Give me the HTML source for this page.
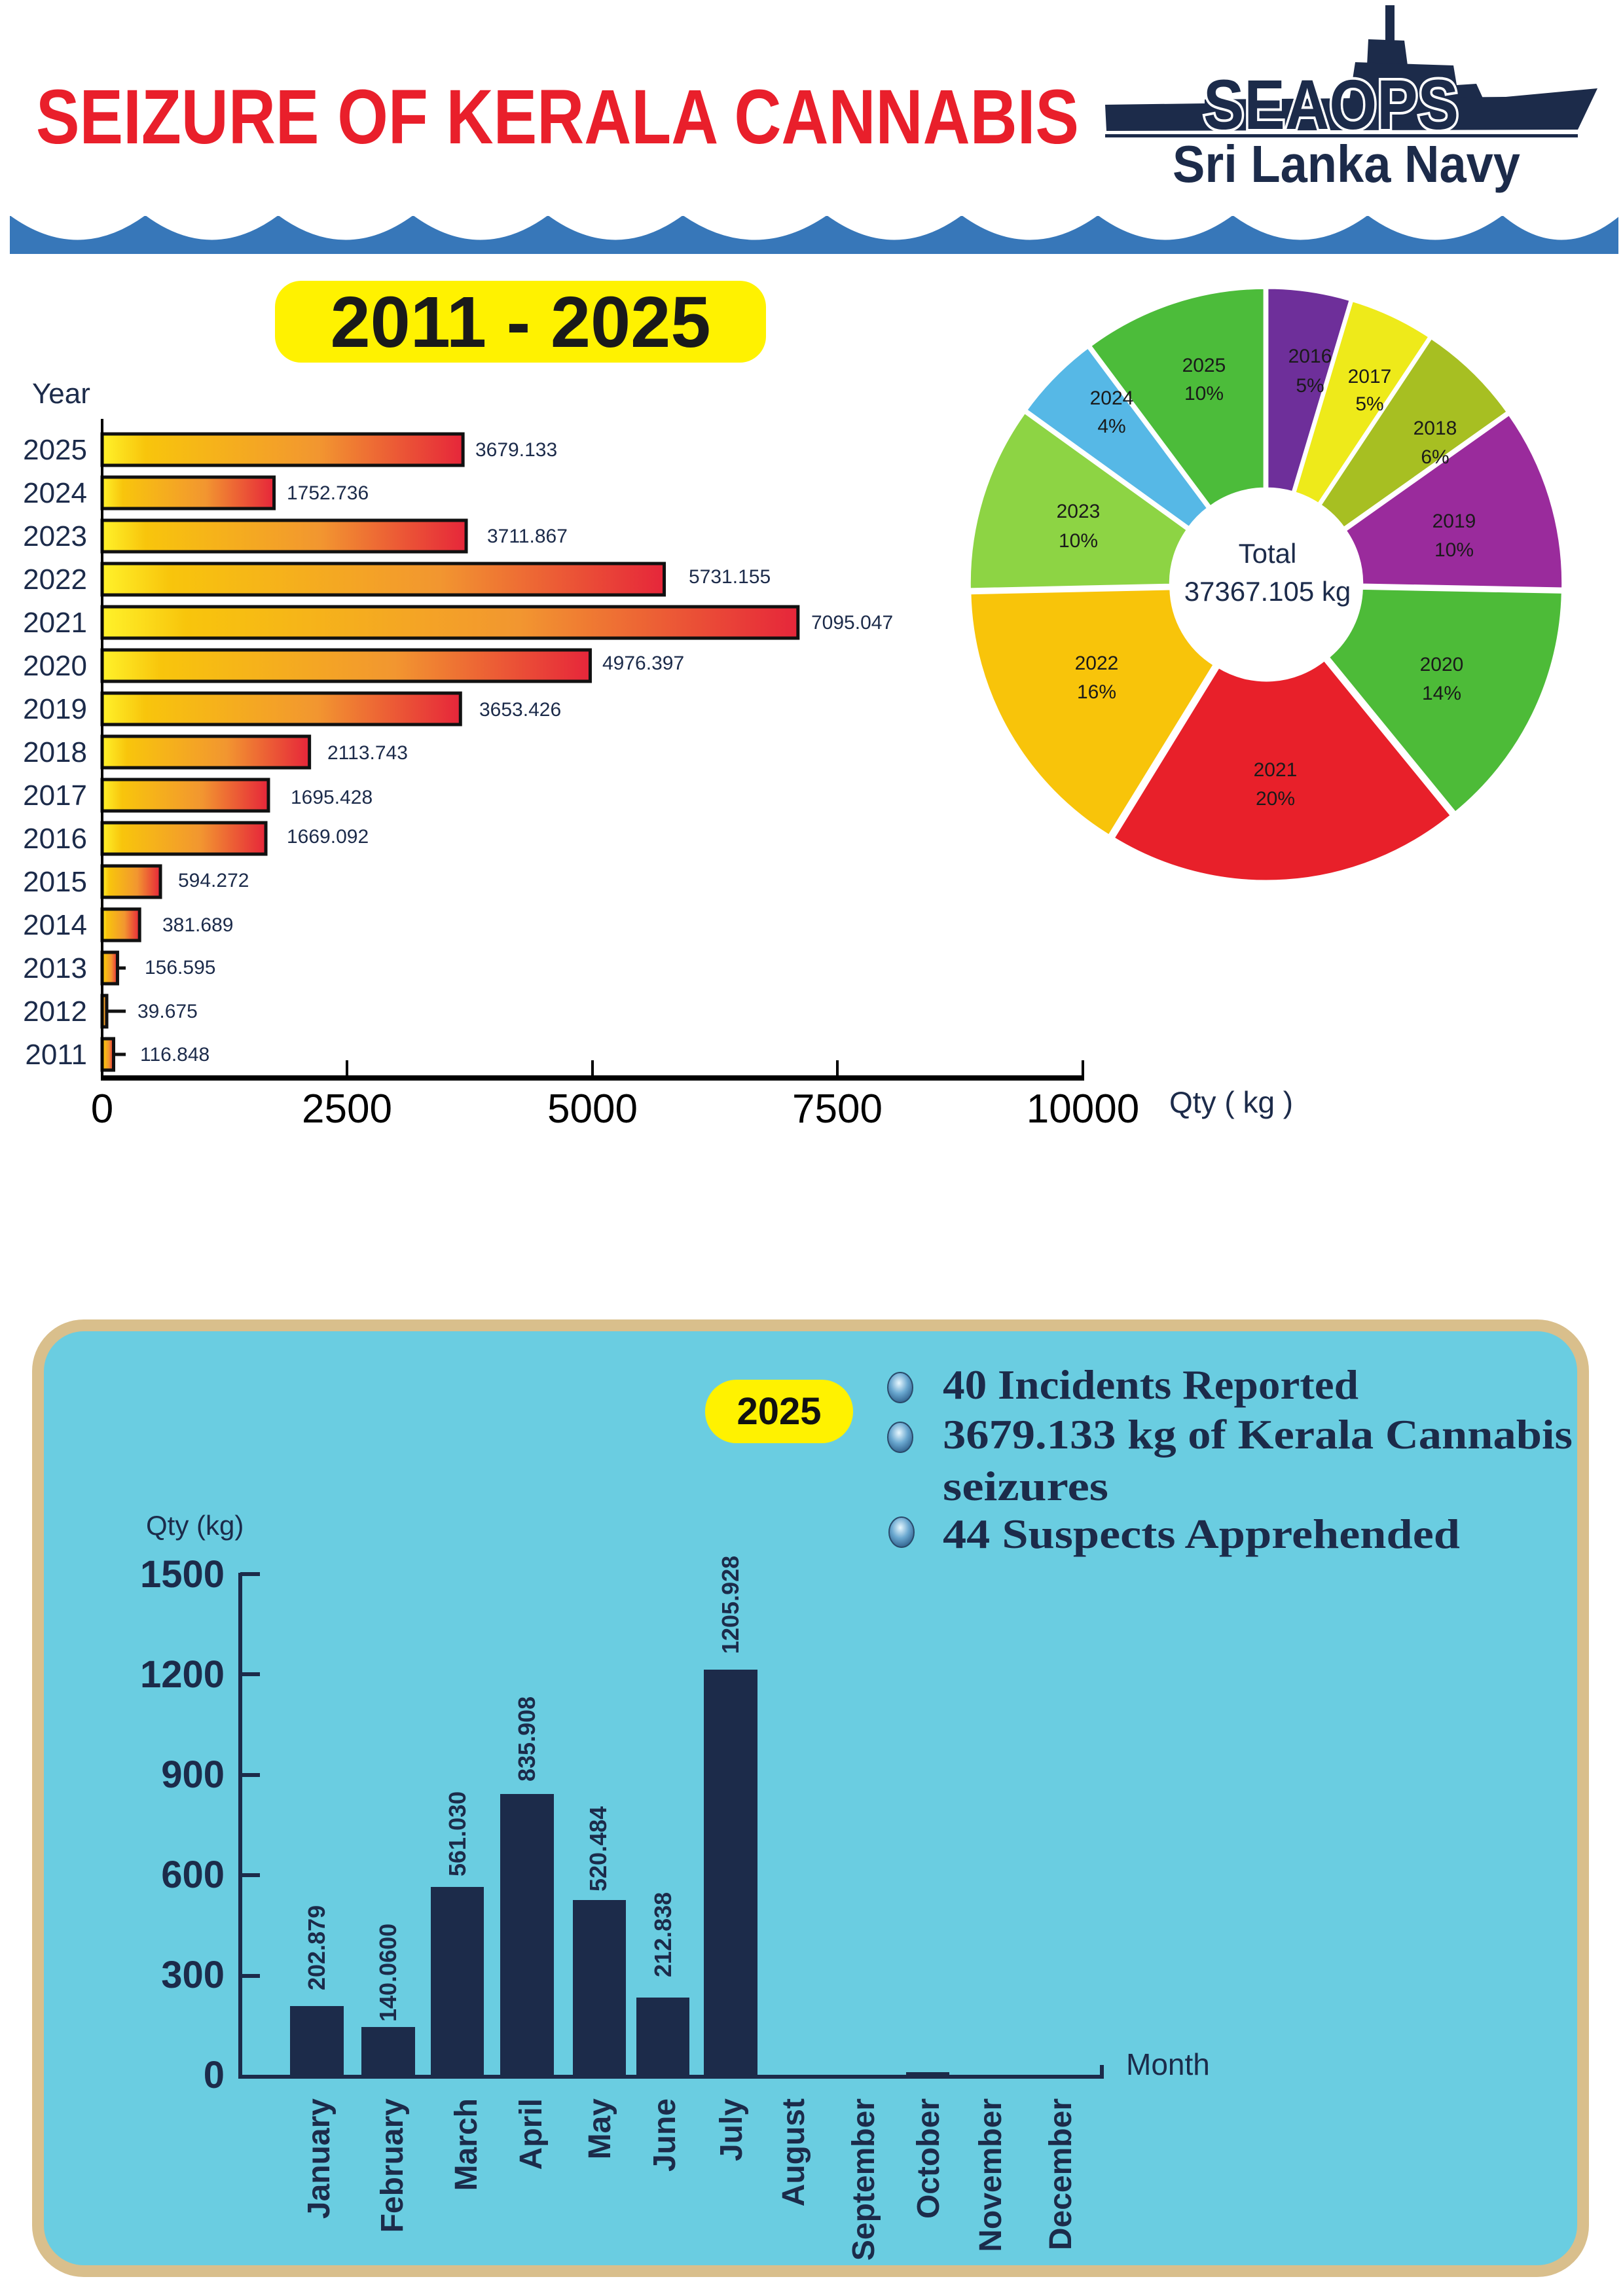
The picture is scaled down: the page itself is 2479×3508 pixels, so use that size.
<!DOCTYPE html>
<html><head><meta charset="utf-8"><style>
html,body{margin:0;padding:0;background:#fff;}
svg{display:block;}
</style></head><body>
<svg id="s" width="2479" height="3508" viewBox="0 0 2479 3508" xmlns="http://www.w3.org/2000/svg" font-family="Liberation Sans, sans-serif">
<defs>
<linearGradient id="bg" x1="0" x2="1" y1="0" y2="0">
<stop offset="0" stop-color="#fff22a"/><stop offset="0.12" stop-color="#f8c50c"/><stop offset="0.6" stop-color="#f29630"/><stop offset="1" stop-color="#e6263a"/>
</linearGradient>
<radialGradient id="bul" cx="0.45" cy="0.35" r="0.7"><stop offset="0" stop-color="#e8f8ff"/><stop offset="0.5" stop-color="#6aa8d0"/><stop offset="1" stop-color="#2a5a86"/></radialGradient>
</defs>

<text x="55" y="219" font-size="118" font-weight="bold" fill="#e91f2b" textLength="1593" lengthAdjust="spacingAndGlyphs">SEIZURE OF KERALA CANNABIS</text>
<g fill="#1c2b4a">
<rect x="2116" y="8" width="14" height="100"/>
<polygon points="2090,60 2145,62 2150,100 2088,100"/>
<polygon points="2070,95 2220,100 2225,130 2255,128 2265,150 2300,148 2300,160 2060,160"/>
<polygon points="1688,160 1840,158 1840,152 2300,148 2440,135 2410,198 1690,200"/>
<rect x="1688" y="205" width="722" height="5"/>
</g>
<text x="1838" y="197" font-size="108" font-weight="bold" fill="#1c2b4a" stroke="#fff" stroke-width="8" paint-order="stroke" textLength="390" lengthAdjust="spacingAndGlyphs">SEAOPS</text>
<text x="1791" y="278" font-size="80" font-weight="bold" fill="#1c2b4a" textLength="531" lengthAdjust="spacingAndGlyphs">Sri Lanka Navy</text>
<rect x="15" y="330" width="2457" height="58" fill="#3777b9"/>
<path id="wv" fill="#fff" d=""/>

<rect x="420" y="429" width="750" height="125" rx="40" fill="#fff200"/>
<text x="795" y="530" font-size="110" font-weight="bold" fill="#1a1a1a" text-anchor="middle">2011 - 2025</text>

<text x="49" y="616" font-size="44" fill="#1c2b4a">Year</text>
<g id="hb"></g>
<line x1="156" y1="640" x2="156" y2="1647" stroke="#000" stroke-width="4"/>
<line x1="154" y1="1647" x2="1656" y2="1647" stroke="#000" stroke-width="8"/>
<g stroke="#000" stroke-width="4"><line x1="530" y1="1620" x2="530" y2="1647"/><line x1="905" y1="1620" x2="905" y2="1647"/><line x1="1279" y1="1620" x2="1279" y2="1647"/><line x1="1654" y1="1620" x2="1654" y2="1647"/></g>
<g font-size="62" fill="#000" text-anchor="middle">
<text x="156" y="1715">0</text><text x="530" y="1715">2500</text><text x="905" y="1715">5000</text><text x="1279" y="1715">7500</text><text x="1654" y="1715">10000</text>
</g>
<text x="1786" y="1700" font-size="46" fill="#1c2b4a">Qty ( kg )</text>

<g font-size="44" fill="#1c2b4a" text-anchor="end">
<text x="133" y="702">2025</text><text x="133" y="768">2024</text><text x="133" y="834">2023</text><text x="133" y="900">2022</text><text x="133" y="966">2021</text><text x="133" y="1032">2020</text><text x="133" y="1098">2019</text><text x="133" y="1164">2018</text><text x="133" y="1230">2017</text><text x="133" y="1296">2016</text><text x="133" y="1362">2015</text><text x="133" y="1428">2014</text><text x="133" y="1494">2013</text><text x="133" y="1560">2012</text><text x="133" y="1626">2011</text>
</g>
<g font-size="30" fill="#1c2b4a">
<text x="726" y="697">3679.133</text><text x="438" y="763">1752.736</text><text x="744" y="829">3711.867</text><text x="1052" y="891">5731.155</text><text x="1239" y="961">7095.047</text><text x="920" y="1023">4976.397</text><text x="732" y="1094">3653.426</text><text x="500" y="1160">2113.743</text><text x="444" y="1228">1695.428</text><text x="438" y="1288">1669.092</text><text x="272" y="1355">594.272</text><text x="248" y="1423">381.689</text><text x="221" y="1488">156.595</text><text x="210" y="1555">39.675</text><text x="214" y="1621">116.848</text>
</g>

<g id="pie"></g>
<circle cx="1934" cy="893" r="140" fill="#fff"/>
<g font-size="30" fill="#1a1a1a" text-anchor="middle">
<text x="1839" y="568">2025</text><text x="1839" y="611">10%</text>
<text x="2001" y="554">2016</text><text x="2001" y="599">5%</text>
<text x="2092" y="585">2017</text><text x="2092" y="627">5%</text>
<text x="2192" y="664">2018</text><text x="2192" y="708">6%</text>
<text x="2221" y="806">2019</text><text x="2221" y="850">10%</text>
<text x="2202" y="1025">2020</text><text x="2202" y="1069">14%</text>
<text x="1948" y="1186">2021</text><text x="1948" y="1230">20%</text>
<text x="1675" y="1023">2022</text><text x="1675" y="1067">16%</text>
<text x="1647" y="791">2023</text><text x="1647" y="836">10%</text>
<text x="1698" y="618">2024</text><text x="1698" y="661">4%</text>
</g>
<text x="1936" y="860" font-size="42" fill="#1c2b4a" text-anchor="middle">Total</text>
<text x="1936" y="918" font-size="42" fill="#1c2b4a" text-anchor="middle">37367.105 kg</text>

<rect x="58" y="2025" width="2360" height="1445" rx="70" fill="#6acde1" stroke="#d9bf8c" stroke-width="18"/>
<rect x="1077" y="2108" width="226" height="97" rx="48" fill="#fff200"/>
<text x="1190" y="2176" font-size="58" font-weight="bold" fill="#111" text-anchor="middle">2025</text>
<g fill="url(#bul)" stroke="#2a4a6a" stroke-width="2"><ellipse cx="1375" cy="2120" rx="19" ry="23"/><ellipse cx="1375" cy="2196" rx="19" ry="23"/><ellipse cx="1377" cy="2341" rx="19" ry="23"/></g>
<g font-family="Liberation Serif, serif" font-weight="bold" font-size="64" fill="#1c2b4a">
<text x="1440" y="2137" textLength="635" lengthAdjust="spacingAndGlyphs">40 Incidents Reported</text>
<text x="1440" y="2213" textLength="962" lengthAdjust="spacingAndGlyphs">3679.133 kg of Kerala Cannabis</text>
<text x="1440" y="2292" textLength="253" lengthAdjust="spacingAndGlyphs">seizures</text>
<text x="1440" y="2365" textLength="790" lengthAdjust="spacingAndGlyphs">44 Suspects Apprehended</text>
</g>

<text x="223" y="2345" font-size="42" fill="#1c2b4a">Qty (kg)</text>
<g font-size="58" font-weight="bold" fill="#1c2b4a" text-anchor="end">
<text x="343" y="2425">1500</text><text x="343" y="2578">1200</text><text x="343" y="2731">900</text><text x="343" y="2884">600</text><text x="343" y="3037">300</text><text x="343" y="3190">0</text>
</g>
<g stroke="#1c2b4a" stroke-width="6">
<line x1="367" y1="2403" x2="367" y2="3173"/>
<line x1="364" y1="3173" x2="1683" y2="3173"/>
<line x1="1683" y1="3155" x2="1683" y2="3176"/>
<line x1="367" y1="2405" x2="397" y2="2405"/><line x1="367" y1="2558" x2="397" y2="2558"/><line x1="367" y1="2712" x2="397" y2="2712"/><line x1="367" y1="2865" x2="397" y2="2865"/><line x1="367" y1="3019" x2="397" y2="3019"/>
</g>
<g fill="#1c2b4a">
<rect x="443" y="3065" width="82" height="108"/>
<rect x="552" y="3097" width="82" height="76"/>
<rect x="658" y="2883" width="81" height="290"/>
<rect x="764" y="2741" width="82" height="432"/>
<rect x="875" y="2903" width="81" height="270"/>
<rect x="972" y="3052" width="81" height="121"/>
<rect x="1075" y="2551" width="82" height="622"/>
<rect x="1384" y="3166" width="66" height="7"/>
</g>
<text x="1720" y="3170" font-size="46" fill="#1c2b4a">Month</text>
<g font-size="36" font-weight="bold" fill="#1c2b4a">
<text transform="translate(496,3041) rotate(-90)">202.879</text>
<text transform="translate(605,3089) rotate(-90)">140.0600</text>
<text transform="translate(711,2867) rotate(-90)">561.030</text>
<text transform="translate(817,2722) rotate(-90)">835.908</text>
<text transform="translate(926,2890) rotate(-90)">520.484</text>
<text transform="translate(1025,3021) rotate(-90)">212.838</text>
<text transform="translate(1128,2527) rotate(-90)">1205.928</text>
</g>
<g font-size="48" font-weight="bold" fill="#1c2b4a" text-anchor="end">
<text transform="translate(503,3206) rotate(-90)">January</text>
<text transform="translate(615,3206) rotate(-90)">February</text>
<text transform="translate(728,3206) rotate(-90)">March</text>
<text transform="translate(827,3206) rotate(-90)">April</text>
<text transform="translate(932,3206) rotate(-90)">May</text>
<text transform="translate(1031,3206) rotate(-90)">June</text>
<text transform="translate(1133,3206) rotate(-90)">July</text>
<text transform="translate(1228,3206) rotate(-90)">August</text>
<text transform="translate(1335,3206) rotate(-90)">September</text>
<text transform="translate(1434,3206) rotate(-90)">October</text>
<text transform="translate(1529,3206) rotate(-90)">November</text>
<text transform="translate(1636,3206) rotate(-90)">December</text>
</g>
</svg>
<script>
var NS="http://www.w3.org/2000/svg";
function el(t,a,p){var e=document.createElementNS(NS,t);for(var k in a)e.setAttribute(k,a[k]);p.appendChild(e);return e;}
var pts=[15,222,425,631,837,1043,1263,1469,1677,1883,2089,2295,2475],d="";
for(var i=0;i<pts.length-1;i++){var a=pts[i],b=pts[i+1];d+="M"+a+",329 Q"+((a+b)/2)+",404 "+b+",329 Z ";}
document.getElementById("wv").setAttribute("d",d);
var vals=[3679.133,1752.736,3711.867,5731.155,7095.047,4976.397,3653.426,2113.743,1695.428,1669.092,594.272,381.689,156.595,39.675,116.848];
var hb=document.getElementById("hb");
vals.forEach(function(v,i){var cy=687+66*i,w=Math.max(v*0.1498,7);
el("rect",{x:156,y:cy-24,width:w,height:48,fill:"url(#bg)",stroke:"#111","stroke-width":5},hb);
if(i>=12)el("line",{x1:156+w,y1:cy,x2:192,y2:cy,stroke:"#111","stroke-width":5},hb);});
var pv=[1669.092,1695.428,2113.743,3653.426,4976.397,7095.047,5731.155,3711.867,1752.736,3679.133];
var cols=["#6e2f9a","#eeea1a","#a7bf22","#9a2b9c","#4dbb38","#e8202a","#f8c40a","#8dd444","#56b8e6","#4cbc3a"];
var tot=pv.reduce(function(a,b){return a+b},0),ang=0,cx=1934,cy=893,R=448,r=140,pie=document.getElementById("pie");
pv.forEach(function(v,i){var a0=ang,a1=ang+v/tot*2*Math.PI;ang=a1;var m=(a0+a1)/2,ox=6*Math.sin(m),oy=-6*Math.cos(m);
function P(rr,a){return (cx+ox+rr*Math.sin(a)).toFixed(1)+","+(cy+oy-rr*Math.cos(a)).toFixed(1);}
var lg=(a1-a0)>Math.PI?1:0;
var dd="M"+P(r,a0)+" L"+P(R,a0)+" A"+R+","+R+" 0 "+lg+" 1 "+P(R,a1)+" L"+P(r,a1)+" A"+r+","+r+" 0 "+lg+" 0 "+P(r,a0)+" Z";
el("path",{d:dd,fill:cols[i],stroke:"#fff","stroke-width":5},pie);});
</script>
</body></html>
